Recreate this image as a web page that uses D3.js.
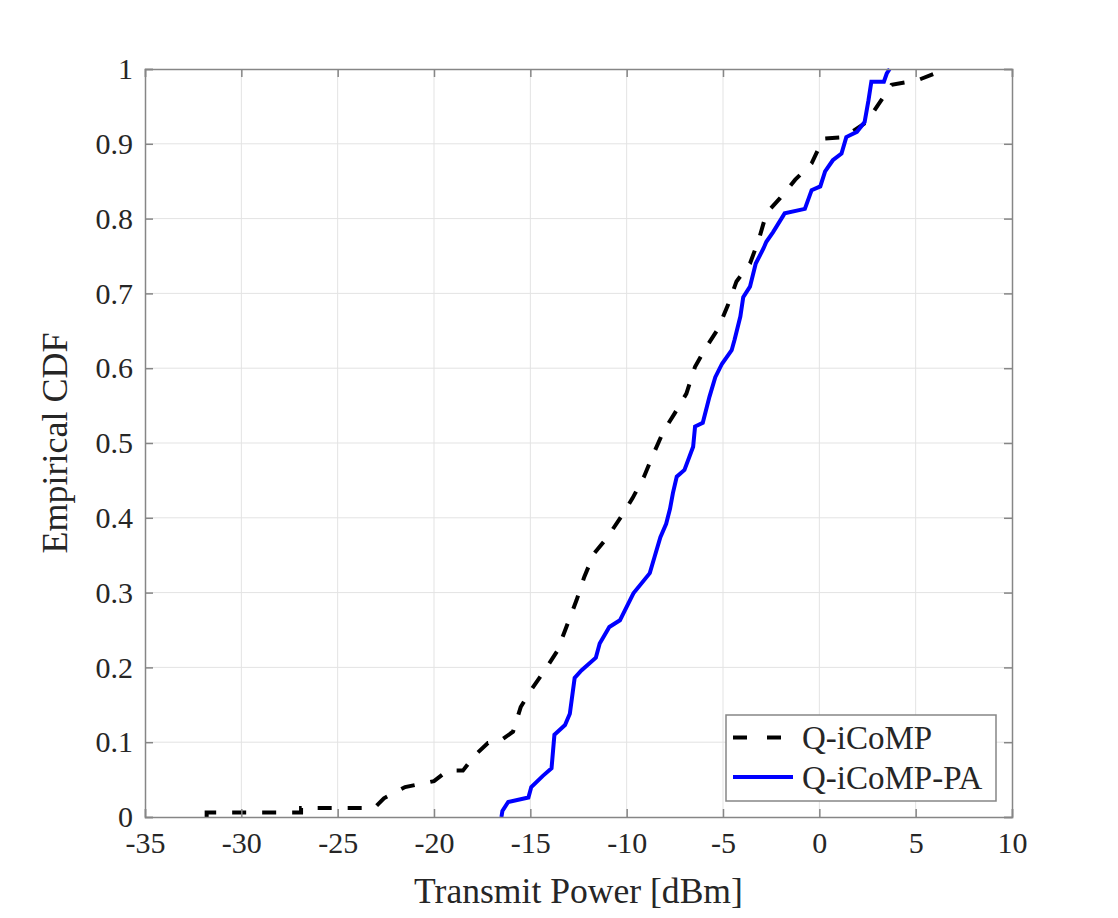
<!DOCTYPE html>
<html>
<head>
<meta charset="utf-8">
<script src="https://cdn.jsdelivr.net/npm/d3@7"></script>
<style>
  body { margin: 0; background: #fff; }
  text { font-family: "Liberation Serif", "DejaVu Serif", serif; fill: #262626; }
</style>
</head>
<body>
<svg id="app" width="1118" height="918"></svg>
<script>
let svg = d3.select('#app')

// Q-iCoMP (black dashed)
const qPower = [-31.8, -31.8, -26.9, -26.9, -23.1, -22.6, -21.5, -20.0, -19.3, -18.5, -17.9, -17.2, -16.6, -15.9, -15.5, -14.9, -14.2, -13.6, -13.1, -12.6, -12.2, -11.7, -11.0, -10.3, -9.7, -9.1, -8.6, -8.1, -7.5, -6.9, -6.45, -5.85, -5.25, -4.75, -4.3, -3.6, -3.15, -2.75, -2.05, -1.25, -0.4, 0.1, 0.2, 1.3, 2.45, 3.05, 3.75, 5.1, 6.3, 6.4]
const qCdf = [0, 0.006, 0.006, 0.012, 0.012, 0.025, 0.040, 0.048, 0.062, 0.062, 0.082, 0.099, 0.101, 0.114, 0.147, 0.172, 0.198, 0.222, 0.256, 0.290, 0.321, 0.352, 0.374, 0.401, 0.426, 0.455, 0.486, 0.515, 0.540, 0.566, 0.602, 0.629, 0.653, 0.684, 0.716, 0.740, 0.771, 0.807, 0.827, 0.852, 0.874, 0.901, 0.907, 0.909, 0.929, 0.952, 0.979, 0.985, 0.997, 1.0]

// Q-iCoMP-PA (blue solid)
const paPower = [-16.5, -16.45, -16.15, -15.1, -14.95, -14.35, -13.9, -13.75, -13.2, -12.95, -12.7, -12.35, -11.6, -11.4, -10.9, -10.35, -9.65, -8.8, -8.55, -8.25, -7.95, -7.75, -7.6, -7.4, -7.0, -6.55, -6.45, -6.05, -5.7, -5.4, -5.05, -4.55, -4.4, -4.1, -3.95, -3.6, -3.3, -2.9, -2.75, -2.4, -1.8, -0.75, -0.4, 0.05, 0.3, 0.7, 1.15, 1.4, 1.95, 2.35, 2.55, 2.7, 3.35, 3.5, 3.65]
const paCdf = [0, 0.008, 0.020, 0.026, 0.040, 0.055, 0.065, 0.110, 0.123, 0.138, 0.186, 0.196, 0.213, 0.232, 0.254, 0.263, 0.299, 0.326, 0.348, 0.374, 0.392, 0.412, 0.433, 0.455, 0.464, 0.495, 0.522, 0.527, 0.562, 0.588, 0.606, 0.624, 0.638, 0.669, 0.695, 0.709, 0.740, 0.760, 0.769, 0.782, 0.807, 0.813, 0.838, 0.843, 0.863, 0.878, 0.887, 0.909, 0.916, 0.929, 0.958, 0.983, 0.983, 0.994, 1.0]

const xTicks = [-35, -30, -25, -20, -15, -10, -5, 0, 5, 10]
const yTicks = [0, 0.1, 0.2, 0.3, 0.4, 0.5, 0.6, 0.7, 0.8, 0.9, 1]
const seriesNames = ['Q-iCoMP', 'Q-iCoMP-PA']

const mLeft = 145, mRight = 1012, mTop = 69, mBottom = 817
const axisColor = '#868686'
const gridColor = '#e3e3e3'

let x = d3.scaleLinear().domain([-35, 10]).range([mLeft, mRight])
let y = d3.scaleLinear().domain([0, 1]).range([mBottom, mTop])

// grid
let gridG = svg.append('g')
gridG.selectAll('line.gx')
.data(xTicks.slice(1, -1))
.enter()
.append('line')
.attr('class', 'gx')
.attr('x1', d=>x(d)).attr('x2', d=>x(d))
.attr('y1', mTop).attr('y2', mBottom)
.attr('stroke', gridColor).attr('stroke-width', 1)
gridG.selectAll('line.gy')
.data(yTicks.slice(1, -1))
.enter()
.append('line')
.attr('class', 'gy')
.attr('y1', d=>y(d)).attr('y2', d=>y(d))
.attr('x1', mLeft).attr('x2', mRight)
.attr('stroke', gridColor).attr('stroke-width', 1)

// curves
let line = d3.line().x(d=>x(d[0])).y(d=>y(d[1]))
let qData = d3.zip(qPower, qCdf)
let paData = d3.zip(paPower, paCdf)

svg.append('path')
.attr('d', line(qData))
.attr('fill', 'none')
.attr('stroke', '#000')
.attr('stroke-width', 4)
.attr('stroke-dasharray', '14,16')

svg.append('path')
.attr('d', line(paData))
.attr('fill', 'none')
.attr('stroke', '#0000ff')
.attr('stroke-width', 4)

// axes, inside ticks on all four sides
let xAxisB = d3.axisBottom(x).tickValues(xTicks).tickSize(-8).tickPadding(15).tickFormat(d=>String(d))
let xAxisT = d3.axisTop(x).tickValues(xTicks).tickSize(-8).tickFormat('')
let yAxisL = d3.axisLeft(y).tickValues(yTicks).tickSize(-8).tickPadding(12).tickFormat(d=>d===0||d===1 ? String(d) : d.toFixed(1))
let yAxisR = d3.axisRight(y).tickValues(yTicks).tickSize(-8).tickFormat('')

let axes = [
  [xAxisB, `translate(0,${mBottom})`],
  [xAxisT, `translate(0,${mTop})`],
  [yAxisL, `translate(${mLeft},0)`],
  [yAxisR, `translate(${mRight},0)`],
]
axes.forEach(a => {
  let g = svg.append('g').attr('transform', a[1]).call(a[0])
  g.select('.domain').attr('stroke', axisColor).attr('stroke-width', 1.5)
  g.selectAll('.tick line').attr('stroke', axisColor).attr('stroke-width', 1.5)
  g.selectAll('.tick text').attr('font-size', 30).attr('fill', '#262626')
    .attr('font-family', '"Liberation Serif", serif')
})

// axis titles
svg.append('text')
.attr('x', (mLeft+mRight)/2)
.attr('y', 903)
.attr('text-anchor', 'middle')
.attr('font-size', 35.6)
.text('Transmit Power [dBm]')

svg.append('text')
.attr('transform', `translate(67,${(mTop+mBottom)/2}) rotate(-90)`)
.attr('text-anchor', 'middle')
.attr('font-size', 36)
.text('Empirical CDF')

// legend
const lgX = 726, lgY = 715, lgW = 270, lgH = 86
let legend = svg.append('g')
legend.append('rect')
.attr('x', lgX).attr('y', lgY).attr('width', lgW).attr('height', lgH)
.attr('fill', '#fff').attr('stroke', axisColor).attr('stroke-width', 1.5)

legend.selectAll('line')
.data(seriesNames)
.enter()
.append('line')
.attr('x1', lgX+7).attr('x2', lgX+67)
.attr('y1', (d,i)=>lgY+22.5+i*39.5).attr('y2', (d,i)=>lgY+22.5+i*39.5)
.attr('stroke', (d,i)=>i===0 ? '#000' : '#0000ff')
.attr('stroke-width', 4)
.attr('stroke-dasharray', (d,i)=>i===0 ? '14,20' : null)

legend.selectAll('text')
.data(seriesNames)
.enter()
.append('text')
.attr('x', lgX+76)
.attr('y', (d,i)=>lgY+22.5+i*39.5)
.attr('dy', '0.35em')
.attr('font-size', 33)
.text(d=>d)
</script>
</body>
</html>
